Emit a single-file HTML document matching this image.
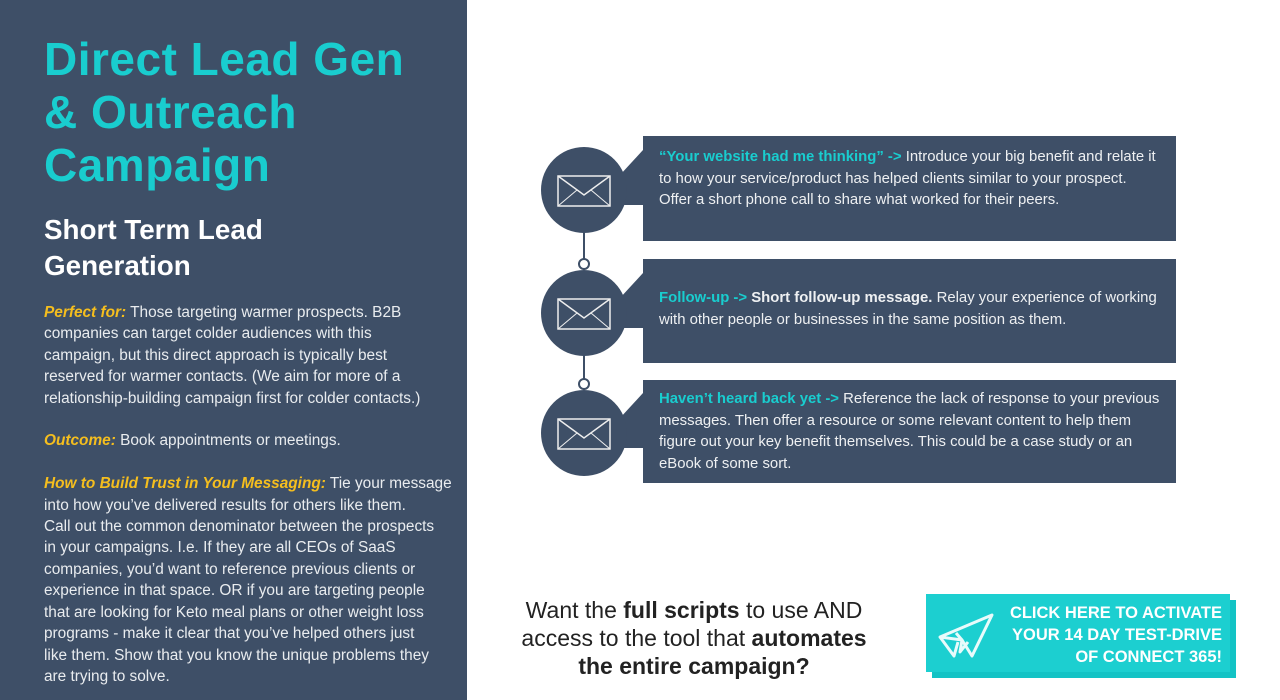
<!DOCTYPE html>
<html><head><meta charset="utf-8"><style>
*{margin:0;padding:0;box-sizing:border-box}
body{width:1280px;height:700px;background:#fff;position:relative;overflow:hidden;font-family:"Liberation Sans",sans-serif}
#left{position:absolute;left:0;top:0;width:467px;height:700px;background:#3e4f67}
.t{position:absolute;left:44px;color:#19cdcf;font-size:46px;font-weight:bold;line-height:53px;top:33px;letter-spacing:0.5px}
.st{position:absolute;left:44px;top:212px;color:#fff;font-size:27.8px;font-weight:bold;line-height:36px}
.body{position:absolute;left:44px;top:302px;color:#e9ecef;font-size:15.4px;line-height:21.4px;white-space:nowrap}
.y{color:#f5be1e;font-style:italic;font-weight:bold}
.box{position:absolute;left:643px;width:533px;background:#3e4f67;color:#eef0f2;font-size:14.9px;line-height:21.5px;padding:11px 0 0 16px;white-space:nowrap}
.c{color:#19cdcf;font-weight:bold}
.circ{position:absolute;left:541px;width:86px;height:86px;border-radius:50%;background:#3e4f67}
.cta{position:absolute;left:508px;top:596px;width:372px;text-align:center;font-size:23px;line-height:28px;color:#222}
</style></head><body>
<div id="left">
<div class="t">Direct Lead Gen<br>&amp; Outreach<br>Campaign</div>
<div class="st">Short Term Lead<br>Generation</div>
<div class="body"><span class="y">Perfect for:</span> Those targeting warmer prospects. B2B<br>companies can target colder audiences with this<br>campaign, but this direct approach is typically best<br>reserved for warmer contacts. (We aim for more of a<br>relationship-building campaign first for colder contacts.)<br><br><span class="y">Outcome:</span> Book appointments or meetings.<br><br><span class="y">How to Build Trust in Your Messaging:</span> Tie your message<br>into how you’ve delivered results for others like them.<br>Call out the common denominator between the prospects<br>in your campaigns. I.e. If they are all CEOs of SaaS<br>companies, you’d want to reference previous clients or<br>experience in that space. OR if you are targeting people<br>that are looking for Keto meal plans or other weight loss<br>programs - make it clear that you’ve helped others just<br>like them. Show that you know the unique problems they<br>are trying to solve.</div>
</div>
<svg style="position:absolute;left:0;top:0" width="1280" height="700">
<g stroke="#3e4f67" stroke-width="2" fill="#fff">
<line x1="584" y1="230" x2="584" y2="270"/><line x1="584" y1="353" x2="584" y2="390"/>
<circle cx="584" cy="264" r="5"/><circle cx="584" cy="384" r="5"/></g>
<g fill="#3e4f67">
<polygon points="620,175 643,150 643,205 620,205"/>
<polygon points="620,298 643,273 643,328 620,328"/>
<polygon points="620,418 643,393 643,448 620,448"/>
</g>
</svg>
<div class="circ" style="top:147px"><svg width="86" height="86"><rect x="17" y="29" width="52" height="30" fill="none" stroke="#eee" stroke-width="1.5"/><polyline points="17,29 43,48 69,29" fill="none" stroke="#eee" stroke-width="1.5"/><line x1="17" y1="59" x2="36" y2="43" stroke="#eee"/><line x1="69" y1="59" x2="50" y2="43" stroke="#eee"/></svg></div>
<div class="circ" style="top:270px"><svg width="86" height="86"><rect x="17" y="29" width="52" height="30" fill="none" stroke="#eee" stroke-width="1.5"/><polyline points="17,29 43,48 69,29" fill="none" stroke="#eee" stroke-width="1.5"/><line x1="17" y1="59" x2="36" y2="43" stroke="#eee"/><line x1="69" y1="59" x2="50" y2="43" stroke="#eee"/></svg></div>
<div class="circ" style="top:390px"><svg width="86" height="86"><rect x="17" y="29" width="52" height="30" fill="none" stroke="#eee" stroke-width="1.5"/><polyline points="17,29 43,48 69,29" fill="none" stroke="#eee" stroke-width="1.5"/><line x1="17" y1="59" x2="36" y2="43" stroke="#eee"/><line x1="69" y1="59" x2="50" y2="43" stroke="#eee"/></svg></div>
<div class="box" style="top:136px;height:105px"><span class="c">“Your website had me thinking” -&gt;</span> Introduce your big benefit and relate it<br>to how your service/product has helped clients similar to your prospect.<br>Offer a short phone call to share what worked for their peers.</div>
<div class="box" style="top:259px;height:104px;padding-top:29px"><span class="c">Follow-up -&gt;</span> <b>Short follow-up message.</b> Relay your experience of working<br>with other people or businesses in the same position as them.</div>
<div class="box" style="top:380px;height:103px;padding-top:9px"><span class="c">Haven’t heard back yet -&gt;</span> Reference the lack of response to your previous<br>messages. Then offer a resource or some relevant content to help them<br>figure out your key benefit themselves. This could be a case study or an<br>eBook of some sort.</div>
<div class="cta">Want the <b>full scripts</b> to use AND<br>access to the tool that <b>automates<br>the entire campaign?</b></div>
<div style="position:absolute;left:932px;top:600px;width:304px;height:78px;background:#13c3c5"></div>
<div style="position:absolute;left:926px;top:594px;width:304px;height:78px;background:#1ccfd0;color:#fff;font-weight:bold;font-size:16.5px;line-height:22px;text-align:right;padding:8px 8px 0 0">CLICK HERE TO ACTIVATE<br>YOUR 14 DAY TEST-DRIVE<br>OF CONNECT 365!</div>
<svg style="position:absolute;left:936px;top:612px" width="66" height="50"><g fill="none" stroke="#e8fbfb" stroke-width="3" stroke-linejoin="round"><polygon points="4,25 56,3 36,44 26,28"/><polyline points="20,21 26,28 24,40 32,30"/><polyline points="4,25 18,44 22,30"/></g></svg>
</body></html>
